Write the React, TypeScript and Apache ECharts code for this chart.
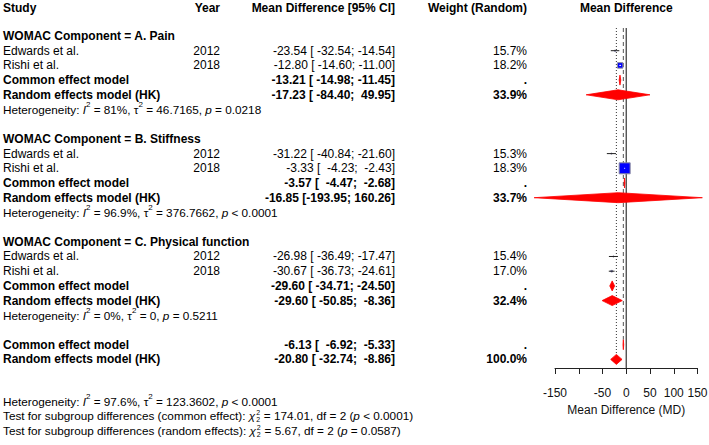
import React, { useEffect, useRef } from 'react';
import * as echarts from 'echarts';

// ---- data ----
const subgroups = ['A. Pain', 'B. Stiffness', 'C. Physical function'];
const studyNames = ['Edwards et al.', 'Rishi et al.'];
const studyYears = [2012, 2018];

const studyMD = [[-23.54, -12.8], [-31.22, -3.33], [-26.98, -30.67]];
const studyLower = [[-32.54, -14.6], [-40.84, -4.23], [-36.49, -36.73]];
const studyUpper = [[-14.54, -11.0], [-21.6, -2.43], [-17.47, -24.61]];
const studyWeight = [[15.7, 18.2], [15.3, 18.3], [15.4, 17.0]];

const commonMD = [-13.21, -3.57, -29.6];
const commonLower = [-14.98, -4.47, -34.71];
const commonUpper = [-11.45, -2.68, -24.5];

const randomMD = [-17.23, -16.85, -29.6];
const randomLower = [-84.4, -193.95, -50.85];
const randomUpper = [49.95, 160.26, -8.36];
const randomWeight = [33.9, 33.7, 32.4];

const hetI2 = ['81%', '96.9%', '0%'];
const hetTau2 = ['46.7165', '376.7662', '0'];
const hetP = ['= 0.0218', '< 0.0001', '= 0.5211'];

const overallCommon = [-6.13, -6.92, -5.33]; // estimate, lower, upper
const overallRandom = [-20.8, -32.74, -8.86];
const overallRandomWeight = 100.0;
const overallHet = ['97.6%', '123.3602', '< 0.0001'];

const testCommon = ['174.01', '2', '< 0.0001'];
const testRandom = ['5.67', '2', '= 0.0587'];

const xTicks = [-150, -100, -50, 0, 50, 100, 150];
const xTicksHidden = [-100];

// ---- layout ----
const FONT = '"Liberation Sans", Arial, Helvetica, sans-serif';
const MAIN_SIZE = 12;
const HET_SIZE = 11.75;
const SCRIPT_SIZE = 8;
const STACK_SIZE = 7;
const STACK_LINE = 7.2;
const COL_STUDY = 3;
const COL_YEAR = 220;
const COL_CI = 395;
const COL_WEIGHT = 527;
const ROWS_PER_GROUP = 7;
const HEADER_ROW = -1.92;
const OVERALL_COMMON_ROW = 21;
const OVERALL_RANDOM_ROW = 22;
const FOOTER_ROW = 24.85;
const Y_MIN = -0.544;
const Y_MAX = 22.585;
const DIAMOND_HALF = 5;
const SQUARE_K = 19.8; // square side (px) times CI width

const NB = '\u00A0';
const pad = (s: string, n: number) => s.padStart(n, NB);
const ciText = (e: number, l: number, u: number) =>
  `${e.toFixed(2)} [${pad(l.toFixed(2), 7)}; ${pad(u.toFixed(2), 6)}]`;

const measureCtx = document.createElement('canvas').getContext('2d') as CanvasRenderingContext2D;
function textWidth(text: string, size: number, bold = false, italic = false) {
  measureCtx.font = `${italic ? 'italic ' : ''}${bold ? 'bold ' : ''}${size}px ${FONT}`;
  return measureCtx.measureText(text).width;
}

// A run of inline text: plain, italic, superscript, or a stacked super/subscript pair
type Seg = { text: string; italic?: boolean; sup?: boolean; stack?: [string, string] };
type Cell = { text: string; x: number | 'axis'; align: 'left' | 'right' | 'center'; bold?: boolean };
type TextRow = { row: number; cells?: Cell[]; segs?: Seg[] };

const hetSegs = (i2: string, tau2: string, p: string): Seg[] => [
  { text: 'Heterogeneity: ' },
  { text: 'I', italic: true },
  { text: '2', sup: true },
  { text: ` = ${i2}, τ` },
  { text: '2', sup: true },
  { text: ` = ${tau2}, ` },
  { text: 'p', italic: true },
  { text: ` ${p}` },
];

const testSegs = (kind: string, t: string[]): Seg[] => [
  { text: `Test for subgroup differences (${kind}): ` },
  { text: 'χ', italic: true },
  { text: '', stack: ['2', t[1]] },
  { text: ` = ${t[0]}, df = ${t[1]} (` },
  { text: 'p', italic: true },
  { text: ` ${t[2]})` },
];

const textRows: TextRow[] = [];
textRows.push({
  row: HEADER_ROW,
  cells: [
    { text: 'Study', x: COL_STUDY, align: 'left', bold: true },
    { text: 'Year', x: COL_YEAR, align: 'right', bold: true },
    { text: 'Mean Difference [95% CI]', x: COL_CI, align: 'right', bold: true },
    { text: 'Weight (Random)', x: COL_WEIGHT, align: 'right', bold: true },
    { text: 'Mean Difference', x: 'axis', align: 'center', bold: true },
  ],
});

const studyData: number[][] = [];
const diamondData: number[][] = [];

subgroups.forEach((g, s) => {
  const base = s * ROWS_PER_GROUP;
  textRows.push({ row: base, cells: [{ text: `WOMAC Component = ${g}`, x: COL_STUDY, align: 'left', bold: true }] });
  studyNames.forEach((name, j) => {
    const row = base + 1 + j;
    textRows.push({
      row,
      cells: [
        { text: name, x: COL_STUDY, align: 'left' },
        { text: String(studyYears[j]), x: COL_YEAR, align: 'right' },
        { text: ciText(studyMD[s][j], studyLower[s][j], studyUpper[s][j]), x: COL_CI, align: 'right' },
        { text: `${studyWeight[s][j].toFixed(1)}%`, x: COL_WEIGHT, align: 'right' },
      ],
    });
    studyData.push([studyMD[s][j], row, studyLower[s][j], studyUpper[s][j]]);
  });
  textRows.push({
    row: base + 3,
    cells: [
      { text: 'Common effect model', x: COL_STUDY, align: 'left', bold: true },
      { text: ciText(commonMD[s], commonLower[s], commonUpper[s]), x: COL_CI, align: 'right', bold: true },
      { text: '.', x: COL_WEIGHT, align: 'right', bold: true },
    ],
  });
  diamondData.push([commonMD[s], base + 3, commonLower[s], commonUpper[s]]);
  textRows.push({
    row: base + 4,
    cells: [
      { text: 'Random effects model (HK)', x: COL_STUDY, align: 'left', bold: true },
      { text: ciText(randomMD[s], randomLower[s], randomUpper[s]), x: COL_CI, align: 'right', bold: true },
      { text: `${randomWeight[s].toFixed(1)}%`, x: COL_WEIGHT, align: 'right', bold: true },
    ],
  });
  diamondData.push([randomMD[s], base + 4, randomLower[s], randomUpper[s]]);
  textRows.push({ row: base + 5, segs: hetSegs(hetI2[s], hetTau2[s], hetP[s]) });
});

textRows.push({
  row: OVERALL_COMMON_ROW,
  cells: [
    { text: 'Common effect model', x: COL_STUDY, align: 'left', bold: true },
    { text: ciText(overallCommon[0], overallCommon[1], overallCommon[2]), x: COL_CI, align: 'right', bold: true },
    { text: '.', x: COL_WEIGHT, align: 'right', bold: true },
  ],
});
diamondData.push([overallCommon[0], OVERALL_COMMON_ROW, overallCommon[1], overallCommon[2]]);
textRows.push({
  row: OVERALL_RANDOM_ROW,
  cells: [
    { text: 'Random effects model (HK)', x: COL_STUDY, align: 'left', bold: true },
    { text: ciText(overallRandom[0], overallRandom[1], overallRandom[2]), x: COL_CI, align: 'right', bold: true },
    { text: `${overallRandomWeight.toFixed(1)}%`, x: COL_WEIGHT, align: 'right', bold: true },
  ],
});
diamondData.push([overallRandom[0], OVERALL_RANDOM_ROW, overallRandom[1], overallRandom[2]]);
textRows.push({ row: FOOTER_ROW, segs: hetSegs(overallHet[0], overallHet[1], overallHet[2]) });
textRows.push({ row: FOOTER_ROW + 1, segs: testSegs('common effect', testCommon) });
textRows.push({ row: FOOTER_ROW + 2, segs: testSegs('random effects', testRandom) });

// ---- drawing helpers ----
function textEl(
  text: string,
  x: number,
  y: number,
  align: string,
  size: number,
  bold = false,
  italic = false,
  lineHeight?: number,
) {
  const style: any = {
    text,
    fontSize: size,
    fontFamily: FONT,
    fontWeight: bold ? 'bold' : 'normal',
    fontStyle: italic ? 'italic' : 'normal',
    fill: '#000',
    align,
    textAlign: align,
    verticalAlign: 'middle',
    textVerticalAlign: 'middle',
  };
  if (lineHeight) style.lineHeight = lineHeight;
  return { type: 'text', x, y, style };
}

function layoutSegs(segs: Seg[], x0: number, y: number, size: number) {
  const els: any[] = [];
  let cx = x0;
  for (const s of segs) {
    if (s.stack) {
      // superscript above subscript, sharing one horizontal slot
      cx += 1;
      els.push(textEl(`${s.stack[0]}\n${s.stack[1]}`, cx, y, 'left', STACK_SIZE, false, false, STACK_LINE));
      cx += Math.max(textWidth(s.stack[0], STACK_SIZE), textWidth(s.stack[1], STACK_SIZE)) + 0.5;
      continue;
    }
    const fs = s.sup ? SCRIPT_SIZE : size;
    const dy = s.sup ? -size * 0.4 : 0;
    const lead = (s.text.match(/^ */) as RegExpMatchArray)[0];
    const body = s.text.slice(lead.length);
    const leadW = lead ? textWidth(lead, fs, false, !!s.italic) : 0;
    const w = textWidth(s.text, fs, false, !!s.italic);
    if (body.trim()) els.push(textEl(body, cx + leadW, y + dy, 'left', fs, false, !!s.italic));
    cx += w;
  }
  return els;
}

function buildOption(): any {
  return {
    animation: false,
    backgroundColor: '#ffffff',
    grid: { left: 555, right: 11.5, top: 28, bottom: 77, outerBoundsMode: 'none', containLabel: false },
    xAxis: {
      type: 'value',
      min: xTicks[0],
      max: xTicks[xTicks.length - 1],
      interval: xTicks[1] - xTicks[0],
      axisLine: { show: true, onZero: false, lineStyle: { color: '#222', width: 1 } },
      axisTick: { show: true, length: 6, lineStyle: { color: '#222', width: 1 } },
      axisLabel: {
        fontSize: 12,
        fontFamily: FONT,
        color: '#111',
        margin: 19,
        hideOverlap: false,
        formatter: (v: number) => (xTicksHidden.includes(v) ? '' : String(v)),
      },
      splitLine: { show: false },
      name: 'Mean Difference (MD)',
      nameLocation: 'middle',
      nameGap: 32,
      nameTextStyle: { fontSize: 12, fontFamily: FONT, color: '#111' },
    },
    yAxis: { type: 'value', inverse: true, min: Y_MIN, max: Y_MAX, show: false },
    series: [
      {
        name: 'no effect',
        type: 'line',
        z: 1,
        symbol: 'none',
        data: [[0, Y_MIN], [0, Y_MAX]],
        lineStyle: { color: '#444', width: 1.3 },
      },
      {
        name: 'common effect',
        type: 'line',
        z: 1,
        symbol: 'none',
        data: [[overallCommon[0], Y_MIN], [overallCommon[0], OVERALL_COMMON_ROW - 0.34]],
        lineStyle: { color: '#555', width: 1, type: [4, 3] },
      },
      {
        name: 'random effects',
        type: 'line',
        z: 1,
        symbol: 'none',
        data: [[overallRandom[0], Y_MIN], [overallRandom[0], OVERALL_RANDOM_ROW - 0.34]],
        lineStyle: { color: '#333', width: 1, type: [1, 2] },
      },
      {
        name: 'studies',
        type: 'custom',
        z: 3,
        clip: false,
        data: studyData,
        renderItem: (_p: any, api: any) => {
          const est = api.value(0);
          const row = api.value(1);
          const lo = api.value(2);
          const hi = api.value(3);
          const [xe, y] = api.coord([est, row]);
          const xl = api.coord([lo, row])[0];
          const xh = api.coord([hi, row])[0];
          const side = Math.max(SQUARE_K / (hi - lo), 1);
          const sl = xe - side / 2;
          const sr = xe + side / 2;
          const children: any[] = [
            {
              type: 'rect',
              shape: { x: sl, y: y - side / 2, width: side, height: side },
              style: { fill: '#0000ff', stroke: '#8a8aa0', lineWidth: 1 },
            },
          ];
          const seg = (a: number, b: number, color: string) =>
            children.push({ type: 'line', shape: { x1: a, y1: y, x2: b, y2: y }, style: { stroke: color, lineWidth: 1 } });
          if (side > 3) {
            if (xl < sl) seg(xl, sl, '#222');
            seg(Math.max(xl, sl), Math.min(xh, sr), '#ffffff');
            if (xh > sr) seg(sr, xh, '#222');
          } else {
            seg(xl, xh, '#222');
          }
          return { type: 'group', children };
        },
      },
      {
        name: 'pooled',
        type: 'custom',
        z: 3,
        clip: false,
        data: diamondData,
        renderItem: (_p: any, api: any) => {
          const row = api.value(1);
          const [xe, y] = api.coord([api.value(0), row]);
          const xl = api.coord([api.value(2), row])[0];
          const xh = api.coord([api.value(3), row])[0];
          return {
            type: 'polygon',
            shape: { points: [[xl, y], [xe, y - DIAMOND_HALF], [xh, y], [xe, y + DIAMOND_HALF]] },
            style: { fill: '#ff0000', stroke: '#ff0000', lineWidth: 0.8 },
          };
        },
      },
      {
        name: 'table',
        type: 'custom',
        z: 4,
        clip: false,
        silent: true,
        data: textRows.map((r) => [0, r.row]),
        renderItem: (p: any, api: any) => {
          const r = textRows[p.dataIndex];
          const [x0, y] = api.coord([0, api.value(1)]);
          const children: any[] = [];
          (r.cells || []).forEach((c) => {
            const x = c.x === 'axis' ? x0 : c.x;
            children.push(textEl(c.text, x, y, c.align, MAIN_SIZE, !!c.bold));
          });
          if (r.segs) children.push(...layoutSegs(r.segs, COL_STUDY, y, HET_SIZE));
          return { type: 'group', children };
        },
      },
    ],
  };
}

export default function App() {
  const ref = useRef<HTMLDivElement>(null);
  useEffect(() => {
    const chart = echarts.init(ref.current as HTMLDivElement, null, { renderer: 'svg' });
    chart.setOption(buildOption());
    return () => chart.dispose();
  }, []);
  return (
    <div
      ref={ref}
      style={{ position: 'absolute', left: 0, top: 0, width: 709, height: 445, background: '#fff' }}
    />
  );
}
